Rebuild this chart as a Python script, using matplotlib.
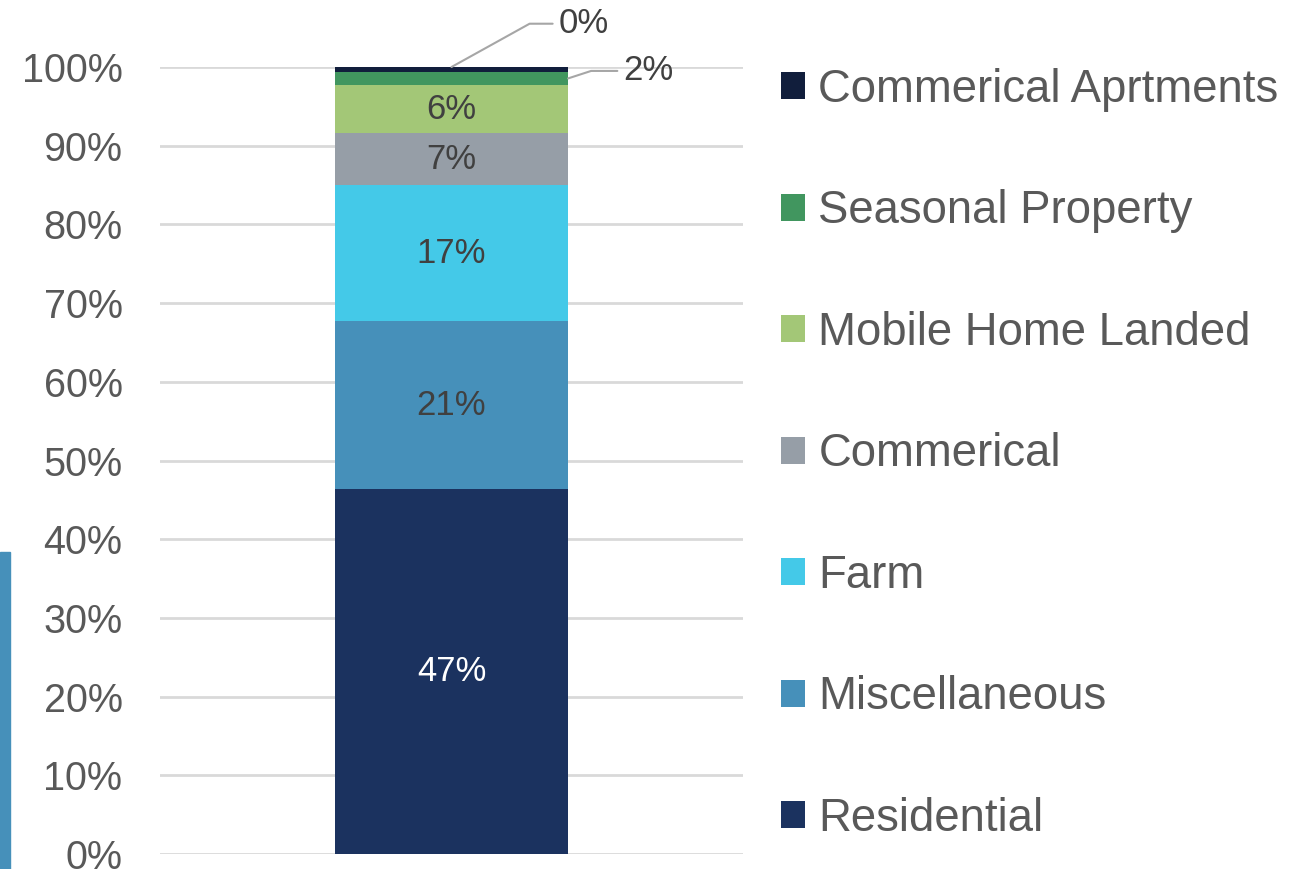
import numpy as np
import matplotlib
matplotlib.use("Agg")
import matplotlib.pyplot as plt
from matplotlib.patches import Rectangle

plt.rcParams['font.family'] = ['Liberation Sans', 'DejaVu Sans']

# data, bottom to top
categories = ['Residential', 'Miscellaneous', 'Farm', 'Commerical',
              'Mobile Home Landed', 'Seasonal Property', 'Commerical Aprtments']
shares = [0.464, 0.213, 0.173, 0.066, 0.061, 0.017, 0.006]
labels = ['47%', '21%', '17%', '7%', '6%', '2%', '0%']
colors = ['#1B325F', '#4690BA', '#44C9E8', '#969EA7', '#A3C777', '#41965F', '#111E3C']
label_colors = ['white', '#404040', '#404040', '#404040', '#404040', None, None]

fig = plt.figure(figsize=(13.06, 8.69), dpi=100)
ax = fig.add_axes([160/1306, 1 - 854/869, (743-160)/1306, (854-67)/869])

bottom = 0
handles = []
for cat, v, c, lab, lc in zip(categories, shares, colors, labels, label_colors):
    b = ax.bar(0, v, width=0.4, bottom=bottom, color=c, label=cat, zorder=3)
    handles.append(b)
    if lc is not None:
        ax.text(0, bottom + v / 2, lab, ha='center', va='center',
                fontsize=25, color=lc, zorder=4)
    bottom += v

# small segments get leader-line labels
top = sum(shares)
ax.annotate(labels[6], xy=(0, top), xytext=(0.183, 1.055),
            textcoords='data', fontsize=25, color='#404040',
            ha='left', va='center', annotation_clip=False,
            arrowprops=dict(arrowstyle='-', color='#A6A6A6', lw=1.5,
                            connectionstyle='angle,angleA=0,angleB=29,rad=0',
                            shrinkA=2, shrinkB=0))
seas_mid = sum(shares[:5]) + shares[5] / 2
ax.annotate(labels[5], xy=(0.2, seas_mid), xytext=(0.294, 0.995),
            textcoords='data', fontsize=25, color='#404040',
            ha='left', va='center', annotation_clip=False,
            arrowprops=dict(arrowstyle='-', color='#A6A6A6', lw=1.5,
                            connectionstyle='angle,angleA=0,angleB=18,rad=0',
                            shrinkA=2, shrinkB=0))

ax.set_xlim(-0.5, 0.5)
ax.set_ylim(0, 1)
ticks = np.arange(0, 1.01, 0.1)
ax.set_yticks(ticks)
ax.set_yticklabels([f'{int(round(t*100))}%' for t in ticks])
ax.tick_params(axis='y', length=0, pad=27, labelsize=28.5, labelcolor='#595959')
ax.set_xticks([])
ax.grid(axis='y', color='#D9D9D9', lw=2, zorder=0)
for s in ax.spines.values():
    s.set_visible(False)

leg = fig.legend(handles[::-1], categories[::-1], loc='upper left',
                 bbox_to_anchor=(781/1306, 1 - 68/869), frameon=False,
                 fontsize=32.8, labelcolor='#595959', handlelength=0.53,
                 handleheight=0.53, handletextpad=0.29, labelspacing=1.70,
                 borderaxespad=0, borderpad=0)

# blue strip at left edge
fig.patches.append(Rectangle((0, 0), 10/1306, 1 - 552/869, transform=fig.transFigure,
                             color='#4690BA', zorder=0))

fig.savefig('out.png', dpi=100)
